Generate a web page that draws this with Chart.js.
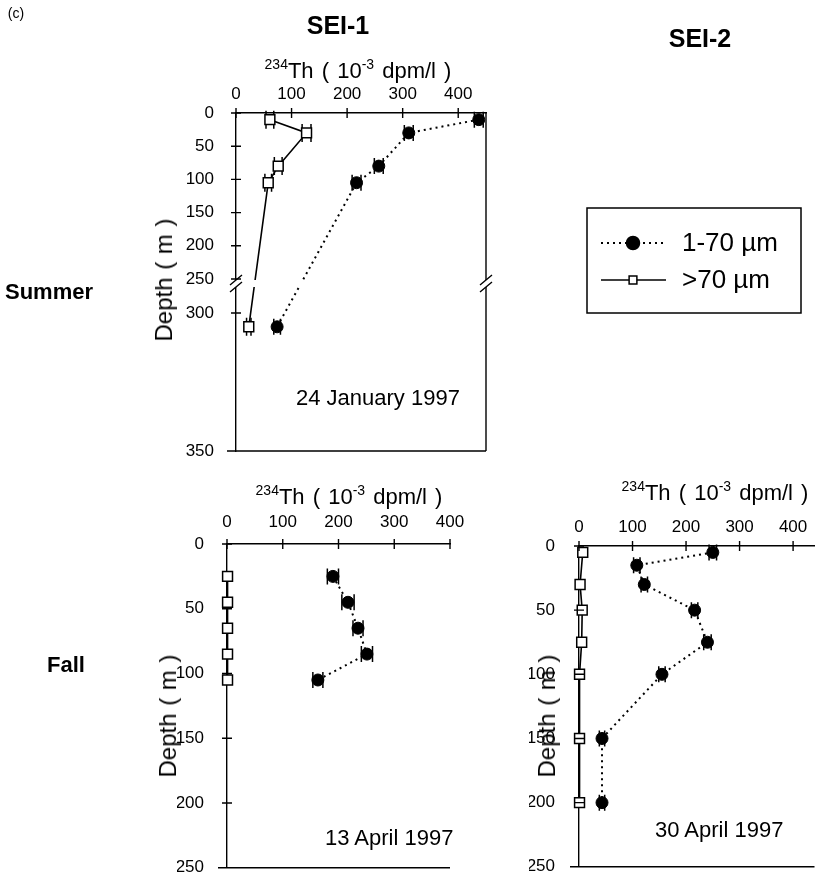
<!DOCTYPE html>
<html>
<head>
<meta charset="utf-8">
<script src="https://cdn.jsdelivr.net/npm/chart.js@4.4.0/dist/chart.umd.min.js"></script>
<style>
  html, body { margin: 0; padding: 0; background: #fff; }
  #wrap { position: relative; width: 823px; height: 893px; overflow: hidden;
          font-family: "Liberation Sans", Arial, sans-serif; color: #000; }
  #wrap canvas { position: absolute; left: 0; top: 0; }
  .lbl { position: absolute; transform: translate(-50%, -50%); white-space: nowrap; }
  .left { transform: translate(0, -50%); }
  .bold { font-weight: bold; }
  .rot { transform: translate(-50%, -50%) rotate(-90deg); font-size: 24px; word-spacing: 1px; }
  .ax { font-size: 22px; word-spacing: 2px; }
  .ax sup { font-size: 14px; vertical-align: 9px; line-height: 0; }
  .date { font-size: 22px; }
</style>
</head>
<body>
<div id="wrap">
  <canvas id="janChart" width="823" height="893"></canvas>
  <canvas id="apr13Chart" width="823" height="893"></canvas>
  <canvas id="apr30Chart" width="823" height="893"></canvas>

  <div class="lbl" style="left:16px;top:13px;font-size:14px;">(c)</div>
  <div class="lbl bold" style="left:338px;top:25px;font-size:25px;">SEI-1</div>
  <div class="lbl bold" style="left:700px;top:38px;font-size:25px;">SEI-2</div>

  <div class="lbl ax" style="left:358px;top:71px;"><sup>234</sup>Th ( 10<sup>-3</sup> dpm/l )</div>
  <div class="lbl ax" style="left:349px;top:497px;"><sup>234</sup>Th ( 10<sup>-3</sup> dpm/l )</div>
  <div class="lbl ax" style="left:715px;top:493px;"><sup>234</sup>Th ( 10<sup>-3</sup> dpm/l )</div>

  <div class="lbl bold" style="left:49px;top:292px;font-size:22px;">Summer</div>
  <div class="lbl bold" style="left:66px;top:665px;font-size:22px;">Fall</div>

  <div class="lbl rot" style="left:164px;top:280px;">Depth ( m )</div>
  <div class="lbl rot" style="left:168px;top:716px;">Depth ( m )</div>
  <div class="lbl rot" style="left:547px;top:716px;">Depth ( m )</div>

  <div class="lbl left date" style="left:296px;top:398px;">24 January 1997</div>
  <div class="lbl left date" style="left:325px;top:838px;">13 April 1997</div>
  <div class="lbl left date" style="left:655px;top:830px;">30 April 1997</div>
</div>

<script>
"use strict";

// --- data (234Th in 10^-3 dpm/l, depth in m) ---
const SERIES_NAMES = ['1-70 \u00b5m', '>70 \u00b5m'];
const TH_TICKS = [0, 100, 200, 300, 400];

// SEI-1, 24 January 1997 (summer)
const janDepth = [10, 30, 80, 105, 305];
const janThSmall = [437, 311, 257, 217, 74];
const janErrSmall = [8, 8, 8, 8, 6];
const janThLarge = [61, 127, 76, 58, 23];
const janErrLarge = [7, 8, 7, 6, 4];
const JAN_DEPTH_TICKS = [0, 50, 100, 150, 200, 250, 300, 350];

// SEI-1, 13 April 1997 (fall)
const apr13Depth = [25, 45, 65, 85, 105];
const apr13ThSmall = [190, 217, 235, 251, 163];
const apr13ErrSmall = [10, 11, 9, 10, 9];
const apr13ThLarge = [1, 1, 1, 1, 1];

// SEI-2, 30 April 1997 (fall)
const apr30DepthSmall = [5, 15, 30, 50, 75, 100, 150, 200];
const apr30ThSmall = [250, 108, 122, 216, 240, 155, 43, 43];
const apr30ErrSmall = [7, 6, 6, 6, 7, 6, 5, 5];
const apr30DepthLarge = [5, 30, 50, 75, 100, 150, 200];
const apr30ThLarge = [7, 2, 6, 5, 1, 1, 1];

const FALL_DEPTH_TICKS = [0, 50, 100, 150, 200, 250];

// broken depth axis of the summer panel: 0-250 m compressed, 300-350 m stretched
function toV(d) {
    return d <= 250 ? d * 166 / 250 : 200 + (d - 300) * 138 / 50;
}

Chart.defaults.font.family = '"Liberation Sans", Arial, sans-serif';
Chart.defaults.font.size = 17;
Chart.defaults.color = '#000';

// error bars behind the markers
const errorBars = {
    id: 'errorBars',
    beforeDatasetsDraw(chart) {
        const { ctx } = chart;
        ctx.save();
        ctx.strokeStyle = '#000';
        ctx.lineWidth = 1.5;
        chart.data.datasets.forEach((ds, i) => {
            if (!ds.errors) return;
            const meta = chart.getDatasetMeta(i);
            meta.data.forEach((pt, j) => {
                const e = ds.errors[j];
                const xl = chart.scales.x.getPixelForValue(ds.data[j].x - e);
                const xr = chart.scales.x.getPixelForValue(ds.data[j].x + e);
                const h = ds.pointRadius + 2;
                ctx.beginPath();
                ctx.moveTo(xl, pt.y); ctx.lineTo(xr, pt.y);
                ctx.moveTo(xl, pt.y - h); ctx.lineTo(xl, pt.y + h);
                ctx.moveTo(xr, pt.y - h); ctx.lineTo(xr, pt.y + h);
                ctx.stroke();
            });
        });
        ctx.restore();
    }
};

// tick marks crossing the axes, bottom frame line, optional right border
const frame = {
    id: 'frame',
    afterDraw(chart, args, opts) {
        const { ctx, chartArea: a, scales: { x, y } } = chart;
        ctx.save();
        ctx.strokeStyle = '#000';
        ctx.lineWidth = 1.4;
        ctx.beginPath();
        x.ticks.forEach(t => {
            const px = x.getPixelForValue(t.value);
            ctx.moveTo(px, a.top - 5); ctx.lineTo(px, a.top + 5);
        });
        y.ticks.forEach((t, i) => {
            if (i === y.ticks.length - 1) return;
            const py = y.getPixelForValue(t.value);
            ctx.moveTo(a.left - 5, py); ctx.lineTo(a.left + 5, py);
        });
        ctx.moveTo(a.left - 9, a.bottom); ctx.lineTo(a.right, a.bottom);
        if (opts.rightBorder) { ctx.moveTo(a.right, a.top); ctx.lineTo(a.right, a.bottom); }
        ctx.stroke();
        ctx.restore();
    }
};

// white gap + "//" marks for the depth break
const axisBreak = {
    id: 'axisBreak',
    afterDraw(chart, args, opts) {
        if (!opts.gap) return;
        const { ctx, chartArea: a, scales: { y } } = chart;
        const y1 = y.getPixelForValue(opts.gap[0]);
        const y2 = y.getPixelForValue(opts.gap[1]);
        ctx.save();
        ctx.fillStyle = '#fff';
        ctx.fillRect(a.left - 1, y1, a.right - a.left + 2, y2 - y1);
        ctx.strokeStyle = '#000';
        ctx.lineWidth = 1.4;
        ctx.beginPath();
        [a.left, a.right].forEach(xx => {
            [y1, y2].forEach(yy => {
                ctx.moveTo(xx - 6, yy + 5); ctx.lineTo(xx + 6, yy - 5);
            });
        });
        ctx.stroke();
        ctx.restore();
    }
};

// legend box placed beside the summer panel
const legendBox = {
    id: 'legendBox',
    afterDraw(chart, args, opts) {
        if (!opts.show) return;
        const { ctx } = chart;
        ctx.save();
        ctx.strokeStyle = '#000';
        ctx.lineWidth = 1.5;
        ctx.strokeRect(587, 208, 214, 105);
        chart.data.datasets.forEach((ds, i) => {
            const yy = i === 0 ? 243 : 280;
            ctx.beginPath();
            ctx.setLineDash(ds.borderDash || []);
            ctx.lineWidth = ds.borderWidth;
            ctx.moveTo(601, yy); ctx.lineTo(666, yy);
            ctx.stroke();
            ctx.setLineDash([]);
            ctx.fillStyle = ds.backgroundColor;
            ctx.strokeStyle = ds.borderColor;
            ctx.lineWidth = 1.5;
            Chart.helpers.drawPoint(ctx, {
                pointStyle: ds.pointStyle, radius: i === 0 ? 6.5 : 5.5, borderWidth: 1.5
            }, 633, yy);
            ctx.fillStyle = '#000';
            ctx.font = '26px "Liberation Sans", Arial, sans-serif';
            ctx.textBaseline = 'middle';
            ctx.fillText(SERIES_NAMES[i], 682, yy + 1);
        });
        ctx.restore();
    }
};

function smallSeries(th, depth, err, yMap) {
    return {
        label: SERIES_NAMES[0],
        data: th.map((v, i) => ({ x: v, y: yMap(depth[i]) })),
        errors: err,
        showLine: true,
        borderColor: '#000',
        backgroundColor: '#000',
        borderWidth: 2,
        borderDash: [2, 4],
        pointStyle: 'circle',
        pointRadius: 6,
        pointBorderWidth: 1,
        clip: false
    };
}

function largeSeries(th, depth, err, yMap) {
    return {
        label: SERIES_NAMES[1],
        data: th.map((v, i) => ({ x: v, y: yMap(depth[i]) })),
        errors: err,
        showLine: true,
        borderColor: '#000',
        backgroundColor: '#fff',
        borderWidth: 1.6,
        pointStyle: 'rect',
        pointRadius: 7,
        pointBorderWidth: 1.5,
        clip: false
    };
}

function makePanel(canvasId, area, xMax, yMax, yTicks, yTickLabels, datasets, extra) {
    const W = 823, H = 893;
    new Chart(document.getElementById(canvasId), {
        type: 'scatter',
        data: { datasets },
        plugins: [errorBars, frame, axisBreak, legendBox],
        options: {
            responsive: false,
            animation: false,
            devicePixelRatio: 1,
            layout: {
                padding: { left: area.left - 50, top: area.top - 35, right: W - area.right, bottom: H - area.bottom }
            },
            scales: {
                x: {
                    type: 'linear', position: 'top', min: 0, max: xMax,
                    grid: { display: false },
                    border: { display: true, color: '#000', width: 1.4 },
                    ticks: { padding: extra.xPad },
                    afterBuildTicks: s => { s.ticks = TH_TICKS.map(v => ({ value: v })); },
                    afterFit: s => { s.height = 35; }
                },
                y: {
                    type: 'linear', reverse: true, min: 0, max: yMax,
                    grid: { display: false },
                    border: { display: true, color: '#000', width: 1.4 },
                    ticks: { padding: extra.yPad, callback: (v, i) => yTickLabels[i] },
                    afterBuildTicks: s => { s.ticks = yTicks.map(v => ({ value: v })); },
                    afterFit: s => { s.width = 50; }
                }
            },
            plugins: {
                legend: { display: false },
                tooltip: { enabled: false },
                frame: { rightBorder: extra.rightBorder },
                axisBreak: { gap: extra.gap },
                legendBox: { show: extra.legend }
            }
        }
    });
}

const ident = d => d;

// summer, SEI-1
makePanel('janChart', { left: 236, top: 113, right: 486, bottom: 451 }, 450, toV(350),
    JAN_DEPTH_TICKS.map(toV), JAN_DEPTH_TICKS,
    [smallSeries(janThSmall, janDepth, janErrSmall, toV),
     largeSeries(janThLarge, janDepth, janErrLarge, toV)],
    { rightBorder: true, gap: [167, 174], legend: true, xPad: 0, yPad: 14 });

// fall, SEI-1
makePanel('apr13Chart', { left: 227, top: 544, right: 450, bottom: 881 }, 400, 250,
    FALL_DEPTH_TICKS, FALL_DEPTH_TICKS,
    [smallSeries(apr13ThSmall, apr13Depth, apr13ErrSmall, ident),
     largeSeries(apr13ThLarge, apr13Depth, null, ident)],
    { rightBorder: false, gap: null, legend: false, xPad: 3, yPad: 15 });

// fall, SEI-2
makePanel('apr30Chart', { left: 579, top: 546, right: 823, bottom: 883 }, 440, 250,
    FALL_DEPTH_TICKS, FALL_DEPTH_TICKS,
    [smallSeries(apr30ThSmall, apr30DepthSmall, apr30ErrSmall, ident),
     largeSeries(apr30ThLarge, apr30DepthLarge, null, ident)],
    { rightBorder: false, gap: null, legend: false, xPad: 0, yPad: 16 });
</script>
</body>
</html>
